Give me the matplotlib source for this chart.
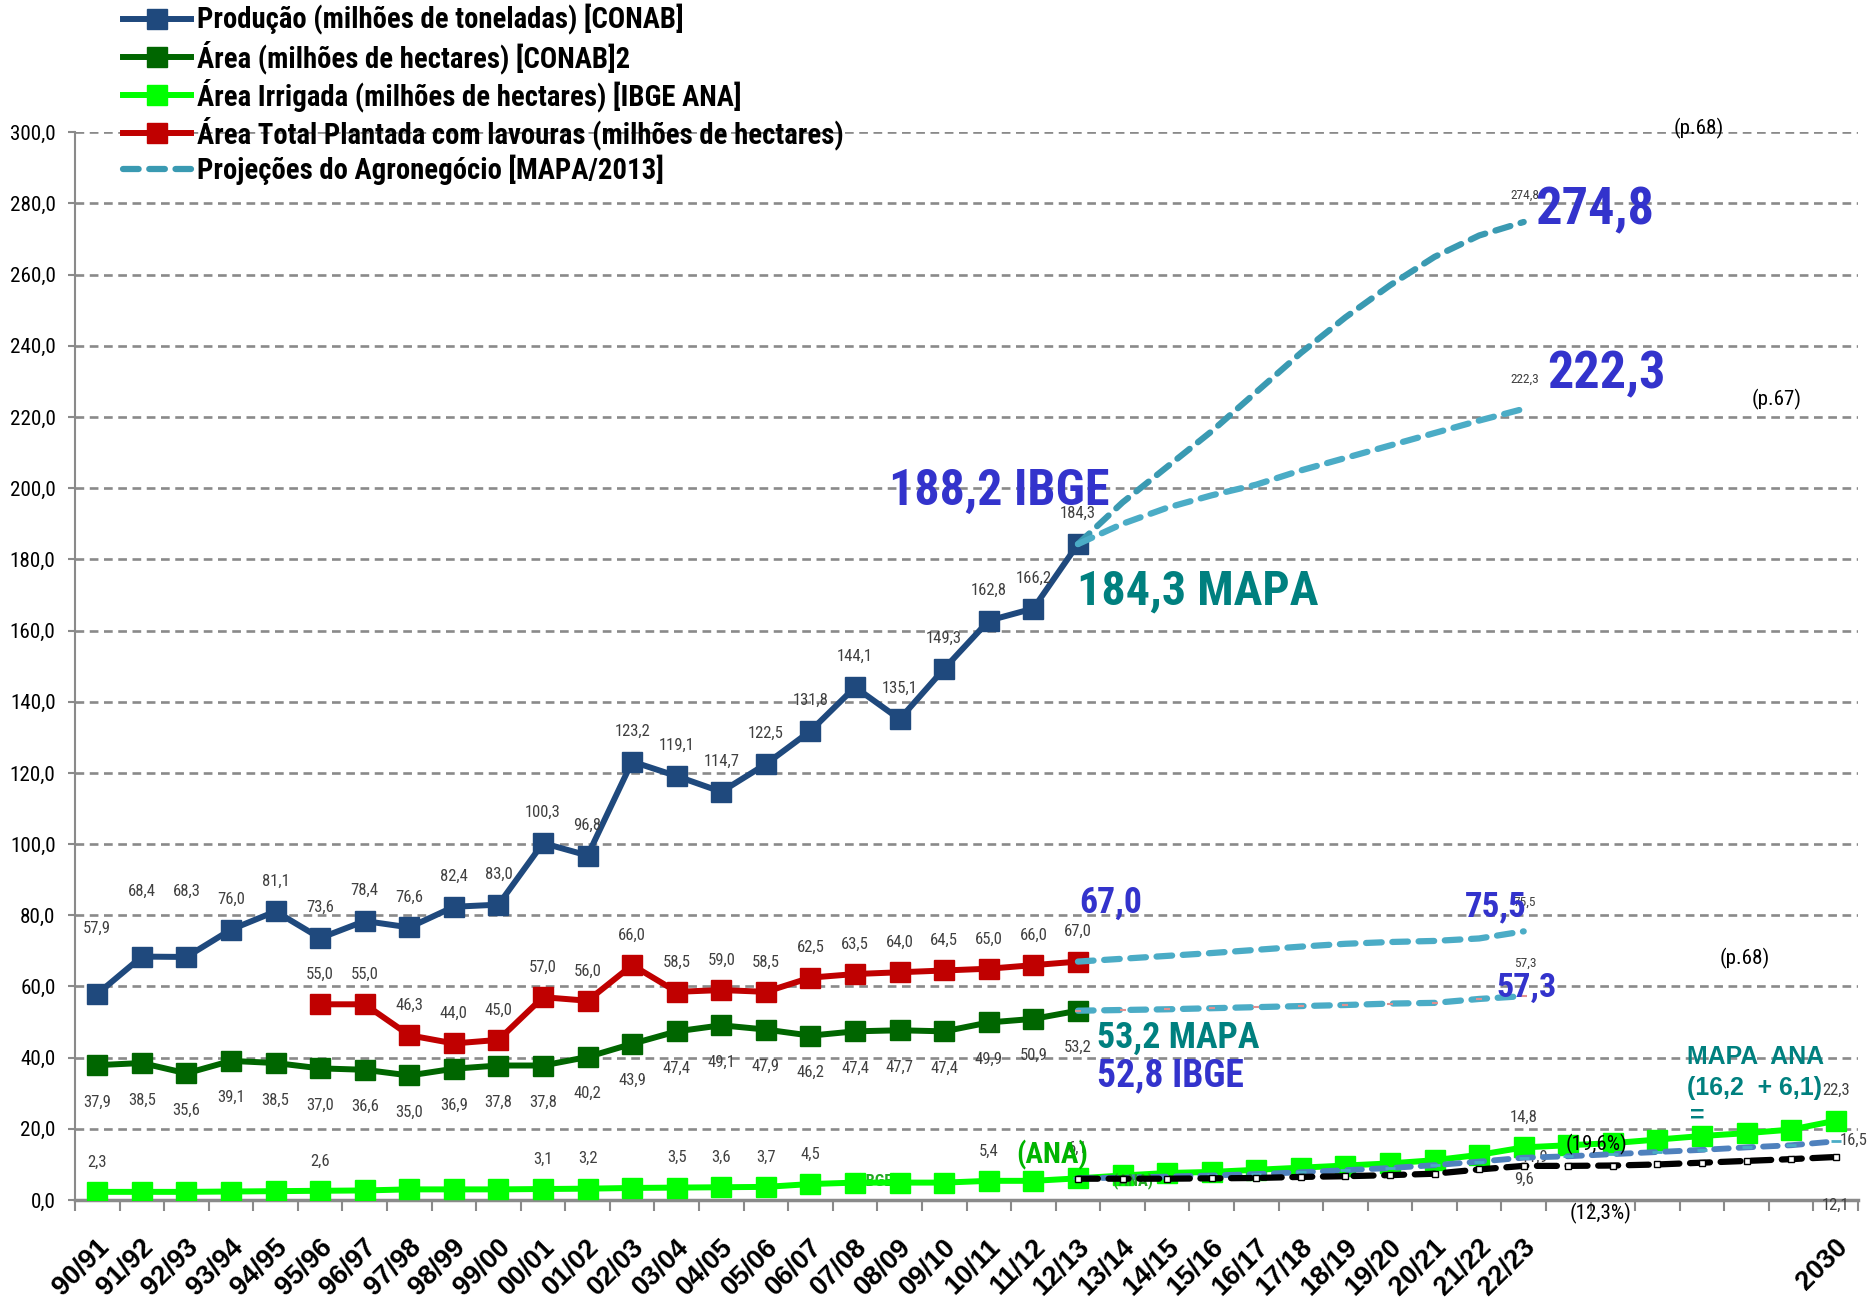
import matplotlib
matplotlib.use('Agg')
import matplotlib.pyplot as plt
from matplotlib import font_manager
from matplotlib.font_manager import FontProperties
from matplotlib.transforms import ScaledTranslation

# ---------------- data ----------------
categories = ['90/91', '91/92', '92/93', '93/94', '94/95', '95/96', '96/97', '97/98',
              '98/99', '99/00', '00/01', '01/02', '02/03', '03/04', '04/05', '05/06',
              '06/07', '07/08', '08/09', '09/10', '10/11', '11/12', '12/13', '13/14',
              '14/15', '15/16', '16/17', '17/18', '18/19', '19/20', '20/21', '21/22',
              '22/23', '', '', '', '', '', '', '2030']

producao = [57.9, 68.4, 68.3, 76.0, 81.1, 73.6, 78.4, 76.6, 82.4, 83.0, 100.3, 96.8,
            123.2, 119.1, 114.7, 122.5, 131.8, 144.1, 135.1, 149.3, 162.8, 166.2, 184.3]
area = [37.9, 38.5, 35.6, 39.1, 38.5, 37.0, 36.6, 35.0, 36.9, 37.8, 37.8, 40.2,
        43.9, 47.4, 49.1, 47.9, 46.2, 47.4, 47.7, 47.4, 49.9, 50.9, 53.2]
area_total_start = 5
area_total = [55.0, 55.0, 46.3, 44.0, 45.0, 57.0, 56.0, 66.0, 58.5, 59.0, 58.5,
              62.5, 63.5, 64.0, 64.5, 65.0, 66.0, 67.0]
irrigada = [2.3, 2.3, 2.3, 2.4, 2.5, 2.6, 2.7, 3.0, 3.0, 3.0, 3.1, 3.2, 3.4, 3.5,
            3.6, 3.7, 4.5, 4.9, 4.9, 4.9, 5.4, 5.4, 6.1, 6.9, 7.6, 7.9, 8.5, 9.1,
            9.7, 10.3, 11.2, 12.7, 14.8, 15.4, 16.0, 17.0, 18.0, 18.8, 19.8, 22.3]
irrigada_labeled = [0, 5, 10, 11, 13, 14, 15, 16, 20, 22, 32, 39]

proj_start = 22
proj_prod_alta = [184.3, 196.0, 206.0, 216.0, 227.0, 238.0, 248.0, 257.0, 265.0, 271.0, 274.8]
proj_prod_baixa = [184.3, 190.0, 194.5, 198.0, 201.0, 205.0, 208.5, 212.0, 215.5, 219.0, 222.3]
proj_area_total = [67.0, 67.8, 68.6, 69.4, 70.3, 71.2, 72.0, 72.5, 72.8, 73.5, 75.5]
proj_area = [53.2, 53.4, 53.6, 53.9, 54.2, 54.5, 54.8, 55.2, 55.4, 56.5, 57.3]
proj_irrig_mapa = [6.1, 6.3, 6.6, 6.9, 7.3, 7.8, 8.4, 9.0, 9.8, 10.8, 11.9, 12.3,
                   12.9, 13.5, 14.1, 14.8, 15.4, 16.5]
proj_irrig_ana = [6.0, 6.0, 6.0, 6.1, 6.2, 6.5, 6.7, 7.0, 7.4, 8.6, 9.6, 9.6,
                  9.7, 10.0, 10.5, 11.0, 11.5, 12.1]

series_names = ['Produção (milhões de toneladas) [CONAB]',
                'Área (milhões de hectares) [CONAB]2',
                'Área Irrigada (milhões de hectares) [IBGE ANA]',
                'Área Total Plantada com lavouras (milhões de hectares)',
                'Projeções do Agronegócio [MAPA/2013]']

# label offsets (points) for the production data labels
prod_label_dy = [47, 47, 47] + [22] * 20

# ---------------- fonts ----------------
ttf = font_manager.fontManager.ttflist
names = {f.name for f in ttf}
COND_STRETCHES = ('condensed', 'semi-condensed', 'extra-condensed', 'ultra-condensed')
NARROW_FAM, NARROW_STRETCH = None, 'normal'
for cand in ['Liberation Sans Narrow', 'Arial Narrow', 'Roboto Condensed',
             'Noto Sans Condensed', 'Open Sans Condensed', 'DejaVu Sans Condensed']:
    if cand in names:
        NARROW_FAM = cand
        break
if NARROW_FAM is None:
    for fam in ['Noto Sans', 'Roboto', 'DejaVu Sans', 'Open Sans', 'Lato', 'Inter']:
        if any(f.name == fam and f.stretch in COND_STRETCHES for f in ttf):
            NARROW_FAM, NARROW_STRETCH = fam, 'condensed'
            break
if NARROW_FAM is None:
    others = sorted(f.name for f in ttf if ('Condensed' in f.name or 'Narrow' in f.name))
    if others:
        NARROW_FAM = others[0]
if NARROW_FAM is None:
    NARROW_FAM = 'Roboto' if 'Roboto' in names else 'Liberation Sans'
SANS_FAM = 'Liberation Sans' if 'Liberation Sans' in names else 'DejaVu Sans'

# ---------------- styling ----------------
C_PROD = '#1F497D'
C_AREA = '#006600'
C_IRR = '#00FF00'
C_TOT = '#C00000'
C_PROJ = '#4BACC6'
C_PROJ2 = '#3A9AB2'
C_BLUE = '#3333CC'
C_TEAL = '#00807F'
C_GRID = '#8A8A8A'
C_LBL = '#404040'

def fmt(v):
    return f"{v:.1f}".replace('.', ',')

fig = plt.figure(figsize=(18.7, 13.02), dpi=100)
renderer = fig.canvas.get_renderer()

def fp(size=10, weight='normal', family=None):
    fam = family or NARROW_FAM
    return FontProperties(family=fam, weight=weight,
                          stretch=NARROW_STRETCH if fam == NARROW_FAM else 'normal',
                          size=size)

def fit(text, target_px, weight='normal', family=None):
    base = 20.0
    w, h, d = renderer.get_text_width_height_descent(text, fp(base, weight, family), ismath=False)
    return base * target_px / w

ax = fig.add_axes([0.0401, 0.0783, 0.9535, 0.8201])

n = len(categories)
ax.set_xlim(-0.5, n - 0.5)
ax.set_ylim(0, 300)

LW = 4.3
MS = 14
dash = (0, (2.5, 1.7))

x_hist = list(range(len(producao)))
l_prod, = ax.plot(x_hist, producao, color=C_PROD, lw=LW, marker='s', ms=MS, zorder=5)
l_area, = ax.plot(x_hist, area, color=C_AREA, lw=LW, marker='s', ms=MS, zorder=5)
x_tot = list(range(area_total_start, area_total_start + len(area_total)))
l_tot, = ax.plot(x_tot, area_total, color=C_TOT, lw=LW, marker='s', ms=MS, zorder=5)
x_irr = list(range(len(irrigada)))
l_irr, = ax.plot(x_irr, irrigada, color=C_IRR, lw=LW, marker='s', ms=MS, zorder=3)

x_proj = list(range(proj_start, proj_start + len(proj_prod_alta)))
PLW = 4.5
l_proj, = ax.plot(x_proj, proj_prod_alta, color=C_PROJ2, lw=PLW, ls=dash,
                  dash_capstyle='round', zorder=6)
ax.plot(x_proj, proj_prod_baixa, color=C_PROJ, lw=PLW, ls=dash, dash_capstyle='round', zorder=6)
ax.plot(x_proj, proj_area_total, color=C_PROJ, lw=PLW, ls=dash, dash_capstyle='round', zorder=6)
ax.plot(x_proj, proj_area, color=C_PROJ, lw=PLW, ls=dash, dash_capstyle='round', zorder=6,
        marker='_', ms=5, mec='#E09090', mew=1.5)

x_pi = list(range(proj_start, proj_start + len(proj_irrig_mapa)))
ax.plot(x_pi, proj_irrig_mapa, color='#4F81BD', lw=4.2, ls=dash, dash_capstyle='round',
        zorder=4, marker='_', ms=7, mec='#4BACC6', mew=2)
ax.plot(x_pi, proj_irrig_ana, color='black', lw=4.5, ls=(0, (3.2, 1.7)), dash_capstyle='round',
        zorder=5, marker='s', ms=4, mfc='white', mec='black', mew=1.0)

# ---------------- axes styling ----------------
S_YT = fit('300,0', 46)
ax.set_yticks(range(0, 301, 20))
ax.set_yticklabels([fmt(v) for v in range(0, 301, 20)], fontproperties=fp(S_YT))
ax.grid(axis='y', color=C_GRID, lw=1.9, linestyle=(0, (3.3, 2.1)), zorder=0)
ax.set_axisbelow(True)
for s in ['top', 'right']:
    ax.spines[s].set_visible(False)
ax.spines['left'].set_color(C_GRID)
ax.spines['left'].set_linewidth(1.5)
ax.spines['bottom'].set_color(C_GRID)
ax.spines['bottom'].set_linewidth(2.5)
ax.spines['bottom'].set_zorder(2)
ax.tick_params(axis='y', length=5, width=1.5, color=C_GRID, pad=9, labelcolor='black')

ax.set_xticks(range(n))
ax.set_xticks([k - 0.5 for k in range(n + 1)], minor=True)
ax.tick_params(axis='x', which='major', length=0, pad=31)
ax.tick_params(axis='x', which='minor', length=8, width=1.5, color=C_GRID, direction='out')
ax.set_xticklabels(categories, rotation=45, ha='right', va='center', rotation_mode='anchor',
                   fontsize=19.5, fontweight='bold', family=SANS_FAM)
shift = ScaledTranslation(8 / 100, 0, fig.dpi_scale_trans)
for t in ax.get_xticklabels():
    t.set_transform(t.get_transform() + shift)

# ---------------- data labels ----------------
S_LBL = fit('100,3', 36)
S_SMALL = fit('274,8', 29)

def lab(x, y, txt, dy, dx=0, size=None, z=7, color=C_LBL):
    ax.annotate(txt, (x, y), xytext=(dx, dy), textcoords='offset points', ha='center',
                va='center', fontproperties=fp(size or S_LBL), color=color, zorder=z,
                annotation_clip=False)

for i, v in enumerate(producao):
    lab(i, v, fmt(v), prod_label_dy[i])
for i, v in enumerate(area):
    lab(i, v, fmt(v), -26.5)
for i, v in zip(x_tot, area_total):
    lab(i, v, fmt(v), 21.5)
for i in irrigada_labeled:
    lab(i, irrigada[i], fmt(irrigada[i]), 21.5)

last = len(x_pi) - 1
lab(x_pi[last], proj_irrig_mapa[last], fmt(proj_irrig_mapa[last]), 1, dx=13)
lab(x_pi[last], proj_irrig_ana[last], fmt(proj_irrig_ana[last]), -35)
lab(x_pi[10], proj_irrig_ana[10], fmt(proj_irrig_ana[10]), -10)
lab(x_pi[10], proj_irrig_mapa[10], fmt(proj_irrig_mapa[10]), 0, dx=8, z=2)

# small labels at the end of the projection lines
plast = len(x_proj) - 1
for series, dy in [(proj_prod_alta, 19), (proj_prod_baixa, 21), (proj_area_total, 21),
                   (proj_area, 24)]:
    lab(x_proj[plast], series[plast], fmt(series[plast]), dy, dx=1, size=S_SMALL, z=7)

# ---------------- annotations ----------------
big = [
    ('188,2 IBGE', 17.75, 199.1, 221, C_BLUE),
    ('184,3 MAPA', 21.98, 171.0, 241, C_TEAL),
    ('274,8', 32.25, 278.0, 119, C_BLUE),
    ('222,3', 32.52, 231.9, 119, C_BLUE),
    ('67,0', 22.03, 83.4, 63, C_BLUE),
    ('75,5', 30.67, 82.4, 62, C_BLUE),
    ('57,3', 31.39, 59.6, 60, C_BLUE),
    ('53,2 MAPA', 22.43, 45.6, 163, C_TEAL),
    ('52,8 IBGE', 22.43, 34.9, 147, C_BLUE),
    ('(ANA)', 20.61, 12.8, 72, '#00B400'),
]
for txt, x, y, wpx, c in big:
    ax.text(x, y, txt, ha='left', va='center', fontproperties=fp(fit(txt, wpx, 'bold'), 'bold'),
            color=c, zorder=8)

S_MA = fit('MAPA  ANA', 137, 'bold', SANS_FAM)
for txt, x, y in [('MAPA  ANA', 35.67, 40.2), ('(16,2  + 6,1)', 35.67, 31.5), ('=', 35.72, 23.8)]:
    ax.text(x, y, txt, ha='left', va='center', fontproperties=fp(S_MA, 'bold', SANS_FAM),
            color=C_TEAL, zorder=8)

S_P = fit('(p.68)', 50)
for txt, x, y in [('(p.68)', 35.36, 301.1), ('(p.67)', 37.12, 224.8), ('(p.68)', 36.40, 68.0),
                  ('(19,6%)', 32.95, 15.5), ('(12,3%)', 33.03, -3.9)]:
    ax.text(x, y, txt, ha='left', va='center', fontproperties=fp(S_P), color='black', zorder=8)

S_IB = fit('(IBGE)', 42, 'bold')
ax.text(17.48, 5.4, '(IBGE)', ha='center', va='center', fontproperties=fp(S_IB, 'bold'),
        color='#22AA22', zorder=2)
ax.text(23.24, 5.4, '(ANA)', ha='center', va='center', fontproperties=fp(S_IB, 'bold'),
        color='#22AA22', zorder=4)

# ---------------- legend ----------------
S_LEG = fit(series_names[0], 486, 'bold')
leg_fp = fp(S_LEG, 'bold')
_, h_txt, _ = renderer.get_text_width_height_descent('Ág(', leg_fp, ismath=False)
fs_px = S_LEG * 100 / 72
row_px = 38.3
spacing = max((row_px - h_txt) / fs_px, 0.0)
top_px = 21.0 - h_txt / 2
fig.legend([l_prod, l_area, l_irr, l_tot, l_proj], series_names, loc='upper left',
           bbox_to_anchor=(123 / 1870, 1 - top_px / 1302), frameon=False,
           prop=leg_fp, handlelength=68 / fs_px, handletextpad=6 / fs_px,
           labelspacing=spacing, borderpad=0, borderaxespad=0)

fig.savefig('out.png', dpi=100)
